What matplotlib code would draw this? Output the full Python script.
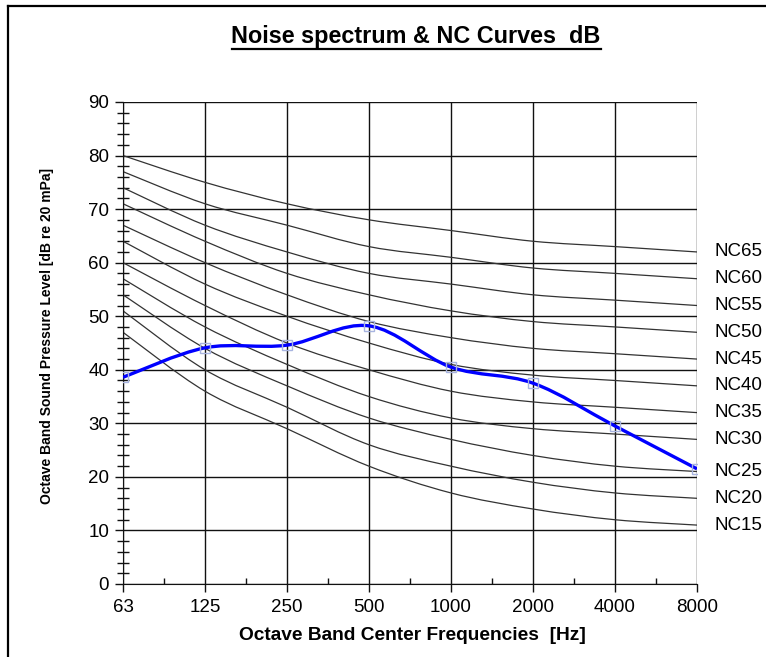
import matplotlib.pyplot as plt
from matplotlib.path import Path
from matplotlib.patches import PathPatch
from matplotlib.lines import Line2D
import numpy as np

plt.rcParams['font.family'] = ['Liberation Sans', 'DejaVu Sans']

# Data
freqs = ['63', '125', '250', '500', '1000', '2000', '4000', '8000']
nc_names = ['NC15', 'NC20', 'NC25', 'NC30', 'NC35', 'NC40', 'NC45', 'NC50', 'NC55', 'NC60', 'NC65']
nc15 = [47, 36, 29, 22, 17, 14, 12, 11]
nc20 = [51, 40, 33, 26, 22, 19, 17, 16]
nc25 = [54, 44, 37, 31, 27, 24, 22, 21]
nc30 = [57, 48, 41, 35, 31, 29, 28, 27]
nc35 = [60, 52, 45, 40, 36, 34, 33, 32]
nc40 = [64, 56, 50, 45, 41, 39, 38, 37]
nc45 = [67, 60, 54, 49, 46, 44, 43, 42]
nc50 = [71, 64, 58, 54, 51, 49, 48, 47]
nc55 = [74, 67, 62, 58, 56, 54, 53, 52]
nc60 = [77, 71, 67, 63, 61, 59, 58, 57]
nc65 = [80, 75, 71, 68, 66, 64, 63, 62]
nc_curves = [nc15, nc20, nc25, nc30, nc35, nc40, nc45, nc50, nc55, nc60, nc65]
spectrum = [38.6, 44.1, 44.6, 48.2, 40.5, 37.5, 29.5, 21.5]


def smooth_path(x, y):
    # Excel-style smoothed line: cubic Bezier segments through the points
    pts = np.column_stack([x, y]).astype(float)
    n = len(pts)
    verts = [pts[0]]
    codes = [Path.MOVETO]
    for i in range(n - 1):
        p0 = pts[i - 1] if i > 0 else pts[i]
        p1 = pts[i]
        p2 = pts[i + 1]
        p3 = pts[i + 2] if i + 2 < n else pts[i + 1]
        c1 = p1 + (p2 - p0) / 6.0
        c2 = p2 - (p3 - p1) / 6.0
        verts += [c1, c2, p2]
        codes += [Path.CURVE4] * 3
    return Path(verts, codes)


x = np.arange(len(freqs))

fig = plt.figure(figsize=(7.66, 6.57), dpi=100)
ax = fig.add_axes([123 / 766, 1 - 584 / 657, (697 - 123) / 766, (584 - 102) / 657])

for curve, name in zip(nc_curves, nc_names):
    ax.add_patch(PathPatch(smooth_path(x, curve), fill=False, edgecolor='#333333', lw=0.9, zorder=2))
    ax.text(1.03, curve[-1], name, transform=ax.get_yaxis_transform(),
            fontsize=13.5, va='center', ha='left')

ax.add_patch(PathPatch(smooth_path(x, spectrum), fill=False, edgecolor='#0000ff', lw=2.4, zorder=4))
ax.plot(x, spectrum, ls='none', marker='s', ms=7, mfc='none', mec='#a8b4e0', mew=1, zorder=5)

ax.set_xlim(0, len(freqs) - 1)
ax.set_ylim(0, 90)
ax.set_xticks(x)
ax.set_xticklabels(freqs)
ax.set_xticks(x[:-1] + 0.5, minor=True)
ax.set_yticks(np.arange(0, 91, 10))
ax.set_yticks(np.arange(0, 91, 2), minor=True)

ax.grid(True, which='major', color='#111111', lw=1.0)
ax.set_axisbelow(True)
for s in ['top', 'right']:
    ax.spines[s].set_visible(False)
ax.spines['left'].set_color('#111111')
ax.spines['bottom'].set_color('#111111')

ax.tick_params(axis='both', which='major', length=6, width=1, color='#111111', labelsize=13.5, direction='out')
ax.tick_params(axis='y', which='minor', length=9, width=1, direction='inout', color='#111111')
ax.tick_params(axis='x', which='minor', length=4, width=1, direction='in', color='#111111')
ax.tick_params(axis='y', which='major', pad=4)
ax.tick_params(axis='x', which='major', pad=5)

fig.text(416 / 766, 1 - 36 / 657, 'Noise spectrum & NC Curves  dB', ha='center', va='center',
         fontsize=16.8, fontweight='bold')
fig.add_artist(Line2D([232 / 766, 601 / 766], [1 - 48.5 / 657, 1 - 48.5 / 657], color='black', lw=1.6))

fig.text(412 / 766, 1 - 636 / 657, 'Octave Band Center Frequencies  [Hz]', ha='center', va='center',
         fontsize=13.8, fontweight='bold')
fig.text(47 / 766, 1 - 336 / 657, 'Octave Band Sound Pressure Level [dB re 20 mPa]', ha='center',
         va='center', rotation=90, fontsize=10, fontweight='bold')

# chart frame (top and left edges)
fig.add_artist(Line2D([7.5 / 766, 1], [1 - 5.5 / 657, 1 - 5.5 / 657], color='black', lw=1.6))
fig.add_artist(Line2D([7.5 / 766, 7.5 / 766], [0, 1 - 5.5 / 657], color='black', lw=1.6))

fig.savefig('out.png', dpi=100)
